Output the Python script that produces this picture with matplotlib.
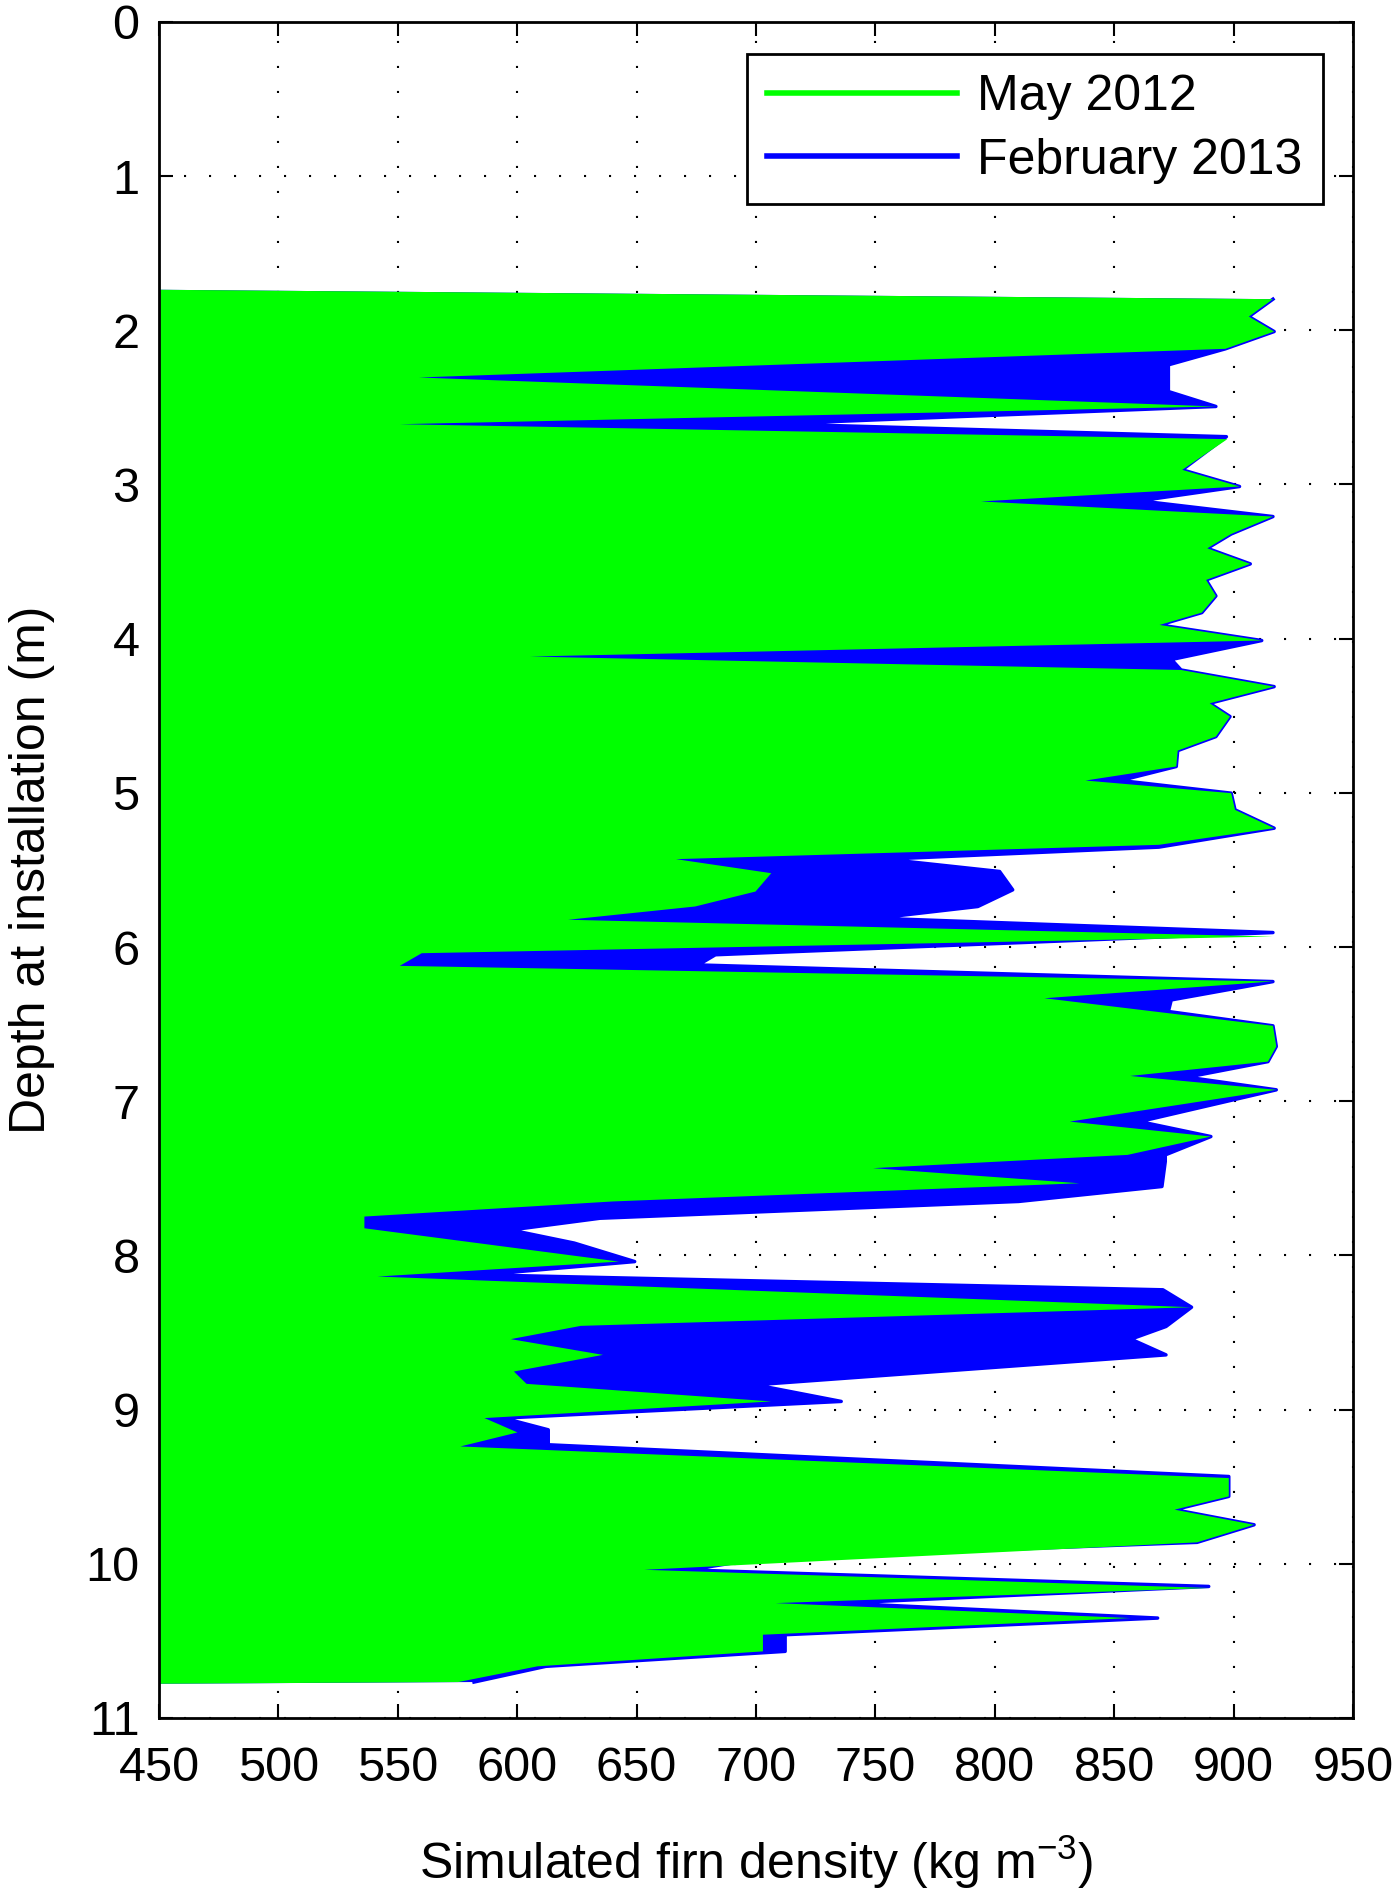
import matplotlib
matplotlib.use("Agg")
import matplotlib.pyplot as plt
from matplotlib.lines import Line2D

plt.rcParams['font.family'] = ['Liberation Sans', 'DejaVu Sans']
plt.rcParams['mathtext.fontset'] = 'custom'
plt.rcParams['mathtext.rm'] = 'Liberation Sans'

# May 2012 profile (depth m, density kg m-3)
may_depth = [1.798, 1.911, 2.008, 2.120, 2.306, 2.494, 2.609, 2.706, 2.905, 3.013,
             3.110, 3.208, 3.321, 3.414, 3.515, 3.619, 3.723, 3.831, 3.911, 4.012,
             4.116, 4.203, 4.311, 4.419, 4.505, 4.635, 4.726, 4.829, 4.920, 5.002,
             5.110, 5.229, 5.337, 5.430, 5.521, 5.640, 5.737, 5.823, 5.932, 6.040,
             6.122, 6.223, 6.332, 6.511, 6.645, 6.743, 6.836, 6.926, 7.132, 7.229,
             7.348, 7.434, 7.532, 7.650, 7.748, 7.824, 8.040, 8.137, 8.336, 8.457,
             8.543, 8.645, 8.753, 8.833, 8.947, 9.055, 9.148, 9.239, 9.444, 9.563,
             9.649, 9.747, 9.861, 10.039, 10.157, 10.255, 10.352, 10.460, 10.568, 10.665,
             10.767]
may_dens = [916.5, 906.4, 917.0, 896.6, 558.8, 892.6, 550.8, 897.4, 878.5, 902.5,
            794.2, 916.5, 899.0, 889.0, 907.0, 888.5, 892.6, 886.7, 869.0, 911.8,
            605.3, 878.0, 917.0, 890.0, 898.5, 892.6, 876.6, 876.0, 838.0, 899.0,
            900.6, 917.0, 868.7, 666.5, 706.4, 699.8, 674.5, 621.3, 916.5, 560.0,
            550.8, 916.5, 820.8, 916.5, 917.9, 914.4, 856.7, 917.9, 831.4, 890.5,
            855.6, 749.0, 835.4, 640.0, 536.0, 536.0, 642.6, 541.5, 882.4, 626.6,
            597.3, 635.9, 598.6, 603.9, 706.4, 586.3, 600.1, 576.2, 898.0, 898.0,
            875.3, 908.6, 884.7, 653.2, 889.6, 708.2, 856.7, 702.9, 702.9, 608.5,
            575.3]
may_top = 1.737
may_bottom = 10.778

# February 2013 profile
feb_depth = [1.798, 1.911, 2.008, 2.120, 2.224, 2.397, 2.494, 2.607, 2.690, 2.905,
             3.013, 3.106, 3.208, 3.321, 3.414, 3.515, 3.619, 3.723, 3.831, 3.911,
             4.012, 4.135, 4.203, 4.311, 4.419, 4.505, 4.635, 4.726, 4.829, 4.920,
             5.002, 5.110, 5.229, 5.352, 5.430, 5.510, 5.629, 5.737, 5.813, 5.906,
             6.050, 6.116, 6.224, 6.343, 6.418, 6.511, 6.645, 6.743, 6.844, 6.926,
             7.132, 7.229, 7.348, 7.391, 7.553, 7.650, 7.759, 7.835, 7.920, 8.040,
             8.126, 8.223, 8.336, 8.461, 8.543, 8.645, 8.839, 8.947, 9.055, 9.131,
             9.228, 9.434, 9.563, 9.649, 9.747, 9.861, 9.963, 10.040, 10.147, 10.255,
             10.352, 10.460, 10.568, 10.665, 10.767]
feb_dens = [916.5, 906.4, 917.0, 896.6, 872.7, 872.7, 892.6, 707.7, 897.0, 878.5,
            902.5, 860.7, 916.5, 899.0, 889.0, 907.0, 888.5, 892.6, 886.7, 869.0,
            911.8, 874.0, 878.0, 917.0, 890.0, 898.5, 892.6, 876.6, 876.0, 852.7,
            899.0, 900.6, 917.0, 868.7, 754.3, 802.0, 807.5, 792.9, 750.4, 916.5,
            683.0, 675.8, 916.5, 873.9, 872.7, 916.5, 917.9, 914.4, 880.6, 917.9,
            860.7, 890.5, 871.4, 871.4, 870.0, 810.0, 634.6, 597.3, 623.9, 649.2,
            585.0, 870.4, 882.4, 871.7, 857.0, 871.7, 699.7, 735.7, 594.3, 613.0,
            613.0, 898.0, 898.0, 875.3, 908.6, 884.7, 702.9, 672.0, 889.6, 735.7,
            868.2, 712.2, 712.2, 612.0, 581.9]
feb_top = 1.737
feb_bottom = 10.778

x_base = 450

fig = plt.figure(figsize=(14, 18.91), dpi=100)
ax = fig.add_axes([0.1136, 0.0915, 0.8528, 0.8969])

# February first, May drawn over it
ax.fill([x_base] + feb_dens + [x_base], [feb_top] + feb_depth + [feb_bottom],
        color='#0000ff', lw=0, zorder=1)
ax.plot(feb_dens, feb_depth, color='#0000ff', lw=2.5, zorder=1.5)
ax.fill([x_base] + may_dens + [x_base], [may_top] + may_depth + [may_bottom],
        color='#00ff00', lw=0, zorder=2)

ax.set_xlim(450, 950)
ax.set_ylim(11, 0)
ax.set_xticks(range(450, 951, 50))
ax.set_yticks(range(0, 12))
ax.set_axisbelow(True)
ax.grid(True, color='black', linestyle=(0, (1, 11)), lw=1.5)
ax.tick_params(direction='in', top=True, right=True, length=10, width=1.5,
               labelsize=35)
ax.tick_params(axis='x', pad=20)
ax.tick_params(axis='y', pad=14)
for s in ax.spines.values():
    s.set_linewidth(2)

ax.set_xlabel('Simulated firn density (kg m$^{-3}$)', fontsize=36, labelpad=30)
ax.set_ylabel('Depth at installation (m)', fontsize=36, labelpad=22)

handles = [Line2D([], [], color='#00ff00', lw=4),
           Line2D([], [], color='#0000ff', lw=4)]
leg = ax.legend(handles, ['May 2012', 'February 2013'], loc='upper right',
                bbox_to_anchor=(0.9747, 0.981), borderaxespad=0, fontsize=36,
                fancybox=False, framealpha=1, edgecolor='black',
                handlelength=3.8, labelspacing=0.35, borderpad=0.4,
                handletextpad=0.4, handleheight=0.7)
leg.get_frame().set_linewidth(2)

fig.savefig('out.png', dpi=100)
